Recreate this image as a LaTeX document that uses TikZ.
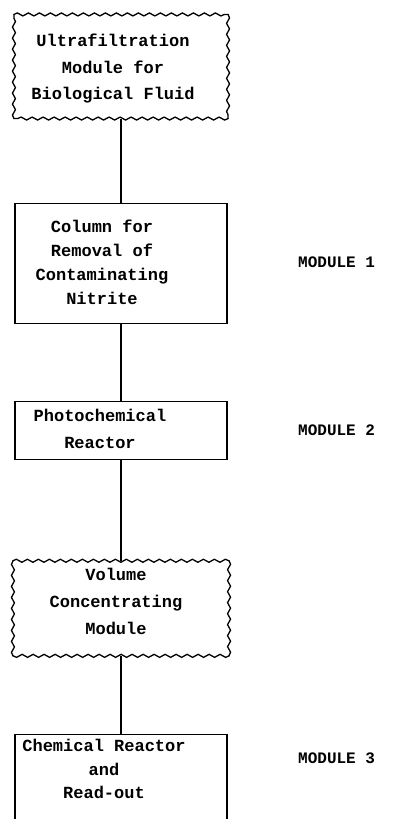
\documentclass[tikz,border=0pt]{standalone}
\usepackage{fontspec}
\setmonofont{Liberation Mono}
\usetikzlibrary{positioning,decorations.pathmorphing}
\tikzset{
  unit/.style={rectangle,draw,line width=1.1pt,minimum width=212pt,inner sep=0pt},
  wavyunit/.style={unit,draw=none},
  wavyline/.style={line width=1.3pt,line cap=round,decorate,
    decoration={snake,amplitude=1.5pt,segment length=11pt}},
  boxtext/.style={font=\ttfamily\bfseries\fontsize{17}{#1}\selectfont,align=center,inner sep=0pt},
  boxtext/.default=24pt,
  modtag/.style={font=\ttfamily\bfseries\fontsize{16}{20}\selectfont,anchor=west,inner sep=0pt},
  link/.style={line width=1.1pt}}
\begin{document}
\begin{tikzpicture}[x=1pt,y=-1pt]
  \useasboundingbox (0,0) rectangle (393,819);
  % the five units of the analyser
  \node[wavyunit,minimum width=213pt,minimum height=103pt] (ultra) at (121,66.5) {};
  \node[unit,minimum height=120pt,below=84pt of ultra] (column) {};
  \node[unit,minimum height=58pt,below=77pt of column] (photo) {};
  \node[wavyunit,minimum width=215pt,minimum height=94pt,below=101pt of photo] (volume) {};
  \node[unit,minimum height=100pt,below=78pt of volume] (chem) {};
  % wavy outlines
  \foreach \b in {ultra,volume}{
    \draw[wavyline] (\b.north west) -- (\b.north east);
    \draw[wavyline] (\b.north east) -- (\b.south east);
    \draw[wavyline] (\b.south east) -- (\b.south west);
    \draw[wavyline] (\b.south west) -- (\b.north west);
  }
  % texts
  \node[boxtext=26.5pt] (ultratxt) at (113,69) {Ultrafiltration\\Module for\\Biological Fluid};
  \node[boxtext] (columntxt) at (102,262) {Column for\\Removal of\\Contaminating\\Nitrite};
  \node[boxtext=27pt] (phototxt) at (100,429) {Photochemical\\Reactor};
  \node[boxtext=27pt] (volumetxt) at (116,601) {Volume\\Concentrating\\Module};
  \node[boxtext=23.5pt] (chemtxt) at (104,769) {Chemical Reactor\\and\\Read-out};
  % module tags
  \node[modtag] (mod1) at (298,262) {MODULE 1};
  \node[modtag] (mod2) at (298,430) {MODULE 2};
  \node[modtag] (mod3) at (298,758) {MODULE 3};
  % flow
  \draw[link] (ultra) -- (column);
  \draw[link] (column) -- (photo);
  \draw[link] (photo) -- (volume);
  \draw[link] (volume) -- (chem);
\end{tikzpicture}
\end{document}
